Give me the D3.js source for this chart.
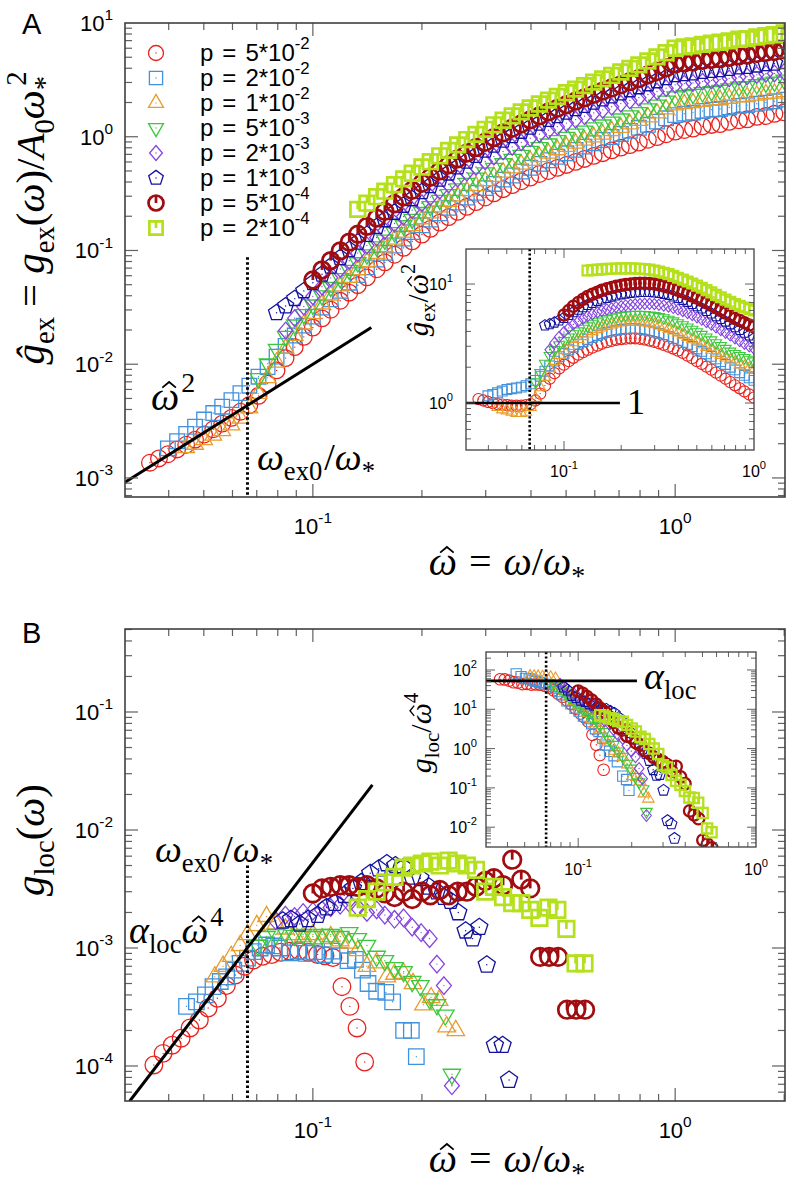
<!DOCTYPE html>
<html><head><meta charset="utf-8">
<script src="https://cdn.jsdelivr.net/npm/d3@7"></script>
<style>body{margin:0;background:#fff}</style>
</head><body>
<svg id="c" width="796" height="1189"></svg>
<script>
const N = null;
// legend / series
const pMantissa = ["5","2","1","5","2","1","5","2"];
const pExponent = ["-2","-2","-2","-3","-3","-3","-4","-4"];
const seriesColors = ["#e8231e","#4191dc","#e89c2c","#3cc83c","#8444e0","#12129c","#a00c10","#b4e01c"];
const seriesShapes = ["circle","square","triangle","triangleDown","diamond","pentagon","circle","square"];
const thickSeries = [false,false,false,false,false,false,true,true];

// Panel A: frequency bins and ratio g_ex/omega^2 per series
const omegaA = [0.0355,0.0376,0.0398,0.0422,0.0447,0.0473,0.0501,0.0531,0.0562,0.0596,
0.0631,0.0668,0.0708,0.0750,0.0794,0.0841,0.0891,0.0944,0.100,0.106,
0.112,0.119,0.126,0.133,0.141,0.150,0.158,0.168,0.178,0.188,
0.200,0.211,0.224,0.237,0.251,0.266,0.282,0.299,0.316,0.335,
0.355,0.376,0.398,0.422,0.447,0.473,0.501,0.531,0.562,0.596,
0.631,0.668,0.708,0.750,0.794,0.841,0.891,0.944,1.00,1.06,
1.12,1.19,1.26,1.33,1.41,1.50,1.58,1.68,1.78,1.88,2.00];

const ratioA_5e2 = [1.08,1.05,1.02,1.0,0.98,0.97,0.96,0.95,0.95,0.95,
0.96,0.98,1.05,1.2,1.4,1.6,1.78,1.95,2.1,2.25,
2.4,2.55,2.68,2.8,2.92,3.04,3.15,3.25,3.33,3.4,
3.45,3.48,3.5,3.5,3.47,3.42,3.35,3.27,3.18,3.08,
2.98,2.87,2.76,2.64,2.5,2.38,2.25,2.13,2.02,1.91,
1.8,1.7,1.6,1.5,1.41,1.33,1.25,1.18,1.11,1.02,
0.94,0.87,0.8,0.73,0.68,0.62,0.57,0.53,0.48,0.45,0.41];
const ratioA_2e2 = [N,N,1.15,1.18,1.22,1.26,1.3,1.32,1.34,1.36,
1.4,1.45,1.55,1.68,1.85,2.05,2.25,2.45,2.62,2.8,
2.96,3.12,3.28,3.43,3.57,3.7,3.82,3.92,4.02,4.1,
4.16,4.2,4.22,4.22,4.18,4.12,4.04,3.95,3.85,3.74,
3.62,3.5,3.37,3.24,3.11,2.98,2.85,2.72,2.59,2.47,
2.35,2.23,2.11,2.0,1.9,1.8,1.71,1.63,1.55,1.42,
1.3,1.19,1.09,0.99,0.91,0.83,0.76,0.69,0.63,0.58,0.53];
const ratioA_1e2 = [N,N,N,N,0.92,0.88,0.86,0.84,0.82,0.82,
0.84,0.92,1.1,1.35,1.65,1.95,2.25,2.52,2.77,3.0,
3.22,3.43,3.63,3.82,4.0,4.16,4.3,4.43,4.55,4.65,
4.73,4.78,4.8,4.8,4.78,4.73,4.66,4.57,4.46,4.34,
4.2,4.05,3.9,3.74,3.58,3.42,3.26,3.1,2.94,2.79,
2.64,2.52,2.4,2.3,2.2,2.1,2.03,1.96,1.9,1.73,
1.58,1.44,1.31,1.19,1.09,0.99,0.9,0.82,0.75,0.68,0.62];
const ratioA_5e3 = [N,N,N,N,N,N,N,N,N,N,
N,N,1.5,1.8,2.15,2.5,2.8,3.08,3.33,3.57,
3.8,4.02,4.23,4.43,4.62,4.8,4.96,5.1,5.23,5.34,
5.42,5.48,5.52,5.54,5.54,5.52,5.47,5.4,5.3,5.18,
5.04,4.88,4.71,4.53,4.34,4.15,3.95,3.76,3.57,3.38,
3.2,3.03,2.87,2.72,2.6,2.5,2.4,2.32,2.25,2.06,
1.89,1.73,1.58,1.45,1.33,1.22,1.11,1.02,0.94,0.86,0.79];
const ratioA_2e3 = [N,N,N,N,N,N,N,N,N,N,
N,N,N,N,N,2.8,3.2,3.6,3.95,4.28,
4.58,4.86,5.12,5.36,5.58,5.78,5.96,6.12,6.27,6.4,
6.52,6.62,6.7,6.76,6.8,6.82,6.82,6.78,6.7,6.6,
6.46,6.3,6.12,5.92,5.7,5.48,5.25,5.02,4.79,4.56,
4.33,4.11,3.9,3.7,3.5,3.32,3.15,3.0,2.86,2.61,
2.37,2.16,1.97,1.8,1.64,1.49,1.36,1.24,1.13,1.02,0.93];
const ratioA_1e3 = [N,N,N,N,N,N,N,N,N,N,
N,N,N,N,4.5,4.6,4.75,4.95,5.2,5.5,
5.8,6.1,6.4,6.68,6.95,7.2,7.44,7.66,7.86,8.04,
8.2,8.33,8.44,8.52,8.58,8.6,8.58,8.52,8.42,8.28,
8.1,7.88,7.64,7.38,7.1,6.82,6.53,6.24,5.95,5.66,
5.38,5.1,4.84,4.59,4.35,4.12,3.9,3.7,3.5,3.19,
2.9,2.64,2.41,2.19,2.0,1.82,1.66,1.51,1.38,1.25,1.14];
const ratioA_5e4 = [N,N,N,N,N,N,N,N,N,N,
N,N,N,N,N,N,N,N,5.5,6.0,
6.5,7.0,7.45,7.85,8.2,8.55,8.85,9.12,9.36,9.57,
9.75,9.9,10.0,10.1,10.15,10.15,10.1,10.0,9.85,9.65,
9.42,9.16,8.88,8.58,8.27,7.95,7.62,7.29,6.96,6.64,
6.32,6.01,5.71,5.42,5.14,4.95,4.72,4.52,4.35,3.97,
3.62,3.31,3.02,2.75,2.51,2.29,2.09,1.91,1.74,1.59,1.45];
const ratioA_2e4 = [N,N,N,N,N,N,N,N,N,N,
N,N,N,N,N,N,N,N,N,N,
N,N,N,13.0,13.1,13.2,13.3,13.4,13.45,13.5,
13.55,13.55,13.55,13.5,13.45,13.35,13.2,13.0,12.75,12.45,
12.1,11.7,11.3,10.9,10.5,10.1,9.7,9.3,8.9,8.5,
8.1,7.75,7.4,7.1,6.8,6.55,6.35,6.15,6.0,5.48,
5.01,4.58,4.19,3.83,3.5,3.2,2.92,2.67,2.44,2.23,2.04];
const ratioA = [ratioA_5e2,ratioA_2e2,ratioA_1e2,ratioA_5e3,ratioA_2e3,ratioA_1e3,ratioA_5e4,ratioA_2e4];

// Panel B: [omega, g_loc] per series
const gLoc_5e2 = [[0.0364,1.02e-4],[0.0386,1.28e-4],[0.0409,1.5e-4],[0.0433,1.72e-4],[0.0458,2.1e-4],[0.0486,2.45e-4],[0.0514,3.1e-4],[0.0545,3.75e-4],[0.0577,4.8e-4],[0.0611,5.9e-4],[0.0648,7.0e-4],[0.0686,7.9e-4],[0.0727,8.5e-4],[0.077,8.8e-4],[0.0815,9.2e-4],[0.0864,9.4e-4],[0.0915,9.5e-4],[0.0969,9.2e-4],[0.103,8.8e-4],[0.108,8.6e-4],[0.1136,8.3e-4],[0.1203,4.7e-4],[0.1265,3.2e-4],[0.1324,2.1e-4],[0.139,1.08e-4]];
const gLoc_2e2 = [[0.0448,3.2e-4],[0.0477,3.5e-4],[0.0505,4.0e-4],[0.053,4.7e-4],[0.0555,5.2e-4],[0.0578,5.7e-4],[0.0605,6.5e-4],[0.063,7.4e-4],[0.066,8.2e-4],[0.0685,9.3e-4],[0.0715,1.0e-3],[0.0745,1.06e-3],[0.078,1.04e-3],[0.081,1.0e-3],[0.0864,9.1e-4],[0.091,9.4e-4],[0.096,9.0e-4],[0.101,9.3e-4],[0.107,8.8e-4],[0.113,9.4e-4],[0.119,8.6e-4],[0.125,7.8e-4],[0.131,8.0e-4],[0.137,6.5e-4],[0.142,5.0e-4],[0.150,4.3e-4],[0.159,4.2e-4],[0.166,3.5e-4],[0.178,2.0e-4],[0.187,2.0e-4],[0.193,1.2e-4]];
const gLoc_1e2 = [[0.0536,5.7e-4],[0.0565,7.0e-4],[0.0595,8.5e-4],[0.063,1.05e-3],[0.066,1.3e-3],[0.07,1.55e-3],[0.0745,1.85e-3],[0.079,1.6e-3],[0.084,1.45e-3],[0.089,1.3e-3],[0.094,1.25e-3],[0.1,1.3e-3],[0.106,1.2e-3],[0.112,1.25e-3],[0.119,1.15e-3],[0.126,1.1e-3],[0.133,9.5e-4],[0.141,7.0e-4],[0.15,7.5e-4],[0.16,5.7e-4],[0.168,6.0e-4],[0.178,6.1e-4],[0.189,5.0e-4],[0.202,3.3e-4],[0.212,3.8e-4],[0.223,3.6e-4],[0.234,2.15e-4],[0.248,2.0e-4]];
const gLoc_5e3 = [[0.0705,1.05e-3],[0.0745,1.25e-3],[0.079,1.3e-3],[0.084,1.35e-3],[0.089,1.28e-3],[0.094,1.3e-3],[0.1,1.25e-3],[0.106,1.3e-3],[0.112,1.3e-3],[0.119,1.25e-3],[0.126,1.35e-3],[0.133,1.2e-3],[0.141,1.05e-3],[0.15,8.5e-4],[0.158,7.8e-4],[0.168,6.8e-4],[0.178,6.3e-4],[0.188,5.2e-4],[0.198,4.8e-4],[0.21,3.7e-4],[0.22,3.3e-4],[0.232,2.7e-4],[0.242,8.5e-5]];
const gLoc_2e3 = [[0.079,1.7e-3],[0.084,1.9e-3],[0.089,1.85e-3],[0.094,2.0e-3],[0.1,2.05e-3],[0.106,2.1e-3],[0.112,2.2e-3],[0.119,2.3e-3],[0.126,2.4e-3],[0.133,2.2e-3],[0.141,2.0e-3],[0.15,2.1e-3],[0.158,1.9e-3],[0.168,1.75e-3],[0.178,1.8e-3],[0.188,1.5e-3],[0.199,1.35e-3],[0.21,1.2e-3],[0.22,7.3e-4],[0.23,4.8e-4],[0.242,6.8e-5]];
const gLoc_1e3 = [[0.0826,1.7e-3],[0.087,1.75e-3],[0.092,1.6e-3],[0.097,1.75e-3],[0.103,1.9e-3],[0.109,2.2e-3],[0.115,2.4e-3],[0.122,2.8e-3],[0.129,3.2e-3],[0.136,3.6e-3],[0.144,4.3e-3],[0.152,4.7e-3],[0.16,5.2e-3],[0.169,5.0e-3],[0.178,4.8e-3],[0.188,4.0e-3],[0.198,3.9e-3],[0.209,3.3e-3],[0.22,3.0e-3],[0.23,2.7e-3],[0.24,2.5e-3],[0.252,2.0e-3],[0.264,1.4e-3],[0.276,1.2e-3],[0.288,1.5e-3],[0.302,7.2e-4],[0.318,1.5e-4],[0.334,1.5e-4],[0.348,7.6e-5]];
const gLoc_5e4 = [[0.1,2.9e-3],[0.106,3.2e-3],[0.112,3.3e-3],[0.119,3.4e-3],[0.126,3.4e-3],[0.133,3.3e-3],[0.141,3.4e-3],[0.15,3.2e-3],[0.158,2.9e-3],[0.168,2.7e-3],[0.178,3.0e-3],[0.188,2.6e-3],[0.2,3.0e-3],[0.211,2.8e-3],[0.224,3.1e-3],[0.237,2.8e-3],[0.251,3.0e-3],[0.266,3.0e-3],[0.282,3.3e-3],[0.299,3.7e-3],[0.316,3.9e-3],[0.335,3.4e-3],[0.355,5.6e-3],[0.376,3.8e-3],[0.398,3.2e-3],[0.424,8.4e-4],[0.449,8.4e-4],[0.475,8.4e-4],[0.503,3.0e-4],[0.533,3.0e-4],[0.564,3.0e-4]];
const gLoc_2e4 = [[0.133,2.2e-3],[0.141,2.6e-3],[0.15,3.0e-3],[0.158,3.6e-3],[0.168,4.0e-3],[0.178,4.8e-3],[0.188,5.0e-3],[0.2,5.2e-3],[0.211,5.4e-3],[0.224,5.0e-3],[0.237,5.5e-3],[0.251,5.2e-3],[0.266,5.0e-3],[0.282,4.6e-3],[0.299,3.0e-3],[0.316,3.3e-3],[0.335,2.7e-3],[0.355,2.4e-3],[0.376,2.4e-3],[0.398,2.1e-3],[0.422,1.8e-3],[0.447,2.2e-3],[0.473,2.1e-3],[0.501,1.45e-3],[0.531,7.4e-4],[0.562,7.4e-4]];
const gLocB = [gLoc_5e2,gLoc_2e2,gLoc_1e2,gLoc_5e3,gLoc_2e3,gLoc_1e3,gLoc_5e4,gLoc_2e4];

// reference lines / constants
const omegaEx0 = 0.066;
const alphaLoc = 53;
const lineA_omega = [0.0303, 0.145];
const lineAi_omega = [0.0305, 0.197];
const lineB_omega = [0.0312, 0.146];
const lineBi_omega = [0.0303, 0.214];
const dottedA_top = 0.087, dottedB_top = 5.0e-3;

// ---------------------------------------------------------------
const svg = d3.select("#c");
const SANS = "'Liberation Sans', Arial, Helvetica, sans-serif";
const SERIF = "'Liberation Serif', 'DejaVu Serif', serif";

const xA = d3.scaleLog().domain([0.0303, 2.01]).range([125, 785]);
const yA = d3.scaleLog().domain([6.8e-4, 10]).range([497, 23]);
const xAi = d3.scaleLog().domain([0.0305, 1.0]).range([466, 754]);
const yAi = d3.scaleLog().domain([0.403, 19.7]).range([450, 249]);
const xB = d3.scaleLog().domain([0.0303, 2.01]).range([125, 785]);
const yB = d3.scaleLog().domain([5.05e-5, 0.505]).range([1101, 629]);
const xBi = d3.scaleLog().domain([0.0303, 1.0]).range([486, 756]);
const yBi = d3.scaleLog().domain([3.13e-3, 287]).range([847, 652]);

function markerPath(shape, s) {
  switch (shape) {
    case "circle": return `M${s},0A${s},${s},0,1,1,${-s},0A${s},${s},0,1,1,${s},0Z`;
    case "square": { const h = s*0.88; return `M${-h},${-h}H${h}V${h}H${-h}Z`; }
    case "triangle": { const R = s*1.15; return `M0,${-R}L${R*0.866},${R*0.5}L${-R*0.866},${R*0.5}Z`; }
    case "triangleDown": { const R = s*1.15; return `M0,${R}L${R*0.866},${-R*0.5}L${-R*0.866},${-R*0.5}Z`; }
    case "diamond": { const R = s; return `M0,${-R}L${R*0.85},0L0,${R}L${-R*0.85},0Z`; }
    case "pentagon": { const R = s*1.02; let d = ""; for (let k = 0; k < 5; k++) { const a = -Math.PI/2 + k*2*Math.PI/5; d += (k ? "L" : "M") + (R*Math.cos(a)).toFixed(2) + "," + (R*Math.sin(a)).toFixed(2); } return d + "Z"; }
  }
}
function drawMarkers(g, pts, k, xs, ys, s, sw) {
  const m = g.append("g").selectAll("g").data(pts).join("g")
    .attr("transform", d => `translate(${xs(d[0]).toFixed(2)},${ys(d[1]).toFixed(2)})`);
  m.append("path").attr("d", markerPath(seriesShapes[k], s)).attr("fill", "none")
    .attr("stroke", seriesColors[k]).attr("stroke-width", thickSeries[k] ? sw*2.1 : sw);
  if (thickSeries[k]) {
    const top = seriesShapes[k] === "square" ? s*0.88 : s;
    m.append("line").attr("x1", 0).attr("x2", 0).attr("y1", -top).attr("y2", 0)
      .attr("stroke", seriesColors[k]).attr("stroke-width", sw*2.1);
  } else {
    m.append("circle").attr("r", 0.7).attr("fill", seriesColors[k]);
  }
}
// rich math-like text; parts with hat get a drawn circumflex (path) above the glyph
function rich(parent, x, y, parts, o) {
  const fam = o.family || SERIF;
  const t = parent.append("text").attr("x", x).attr("y", y)
    .attr("font-family", fam).attr("font-size", o.size)
    .attr("text-anchor", o.anchor || "start").attr("fill", "#000");
  const tr = o.rotate ? `rotate(${o.rotate},${x},${y})` : null;
  if (tr) t.attr("transform", tr);
  let cur = 0, idx = 0;
  const hats = [];
  for (const p of parts) {
    const off = p.sup ? -o.size*(o.supK || 0.45) : p.sub ? o.size*0.25 : 0;
    const fsz = (p.sup || p.sub) ? o.size*(o.scriptK || 0.7) : o.size;
    const s = t.append("tspan").attr("dy", (off - cur).toFixed(2)).text(p.t);
    cur = off;
    if (p.sup || p.sub) s.attr("font-size", fsz);
    if (p.i) s.attr("font-style", "italic");
    if (p.dx) s.attr("dx", p.dx);
    if (p.hat) hats.push({idx, fsz, italic: !!p.i});
    idx += p.t.length;
  }
  if (hats.length) {
    const hg = parent.append("g");
    if (tr) hg.attr("transform", tr);
    hats.forEach(h => {
      const sp = t.node().getStartPositionOfChar(h.idx), ep = t.node().getEndPositionOfChar(h.idx);
      const cx = (sp.x + ep.x)/2 + (h.italic ? h.fsz*0.1 : 0), b = sp.y, f = h.fsz;
      hg.append("path").attr("d", `M${cx - f*0.17},${b - f*0.56}L${cx},${b - f*0.7}L${cx + f*0.17},${b - f*0.56}`)
        .attr("fill", "none").attr("stroke", "#000").attr("stroke-width", f*0.045).attr("stroke-linejoin", "miter");
    });
  }
  return t;
}
function isMajor(v) { const l = Math.log10(v); return Math.abs(l - Math.round(l)) < 1e-6; }
function frame(g, xs, ys, o) {
  const [x0, x1] = xs.range(), [y0, y1] = ys.range(); // y0 bottom, y1 top
  const tk = g.append("g").attr("stroke", "#606060").attr("stroke-width", o.tw);
  xs.ticks().forEach(v => {
    const x = xs(v); if (x < x0 + 0.5 || x > x1 - 0.5) return;
    const L = isMajor(v) ? o.maj : o.min;
    tk.append("line").attr("x1", x).attr("x2", x).attr("y1", y0).attr("y2", y0 - L);
    tk.append("line").attr("x1", x).attr("x2", x).attr("y1", y1).attr("y2", y1 + L);
  });
  ys.ticks().forEach(v => {
    const y = ys(v); if (y > y0 - 0.5 || y < y1 + 0.5) return;
    const L = isMajor(v) ? o.maj : o.min;
    tk.append("line").attr("y1", y).attr("y2", y).attr("x1", x0).attr("x2", x0 + L);
    tk.append("line").attr("y1", y).attr("y2", y).attr("x1", x1).attr("x2", x1 - L);
  });
  g.append("rect").attr("x", x0).attr("y", y1).attr("width", x1 - x0).attr("height", y0 - y1)
    .attr("fill", "none").attr("stroke", "#404040").attr("stroke-width", o.fw);
  xs.ticks().filter(isMajor).forEach(v => {
    const x = xs(v); if (x < x0 - 1 || x > x1 + 1) return;
    rich(g, x, y0 + o.xlabOff, [{t: "10"}, {t: String(Math.round(Math.log10(v))), sup: 1}],
      {family: SANS, size: o.fs, anchor: "middle", supK: 0.48});
  });
  ys.ticks().filter(isMajor).forEach(v => {
    const y = ys(v); if (y > y0 + 1 || y < y1 - 1) return;
    rich(g, x0 - o.ylabGap, y + o.ylabDy, [{t: "10"}, {t: String(Math.round(Math.log10(v))), sup: 1}],
      {family: SANS, size: o.fs, anchor: "end", supK: 0.48});
  });
}
function clip(id, xs, ys) {
  const [x0, x1] = xs.range(), [y0, y1] = ys.range();
  svg.append("clipPath").attr("id", id).append("rect")
    .attr("x", x0).attr("y", y1).attr("width", x1 - x0).attr("height", y0 - y1);
  return `url(#${id})`;
}
const lineGen = (xs, ys) => d3.line().x(d => xs(d[0])).y(d => ys(d[1]));
const W = "\u03C9";

// ================= Panel A main =================
const gA = svg.append("g");
const dataA = gA.append("g").attr("clip-path", clip("cA", xA, yA));
ratioA.forEach((arr, k) => {
  const pts = [];
  arr.forEach((r, i) => { if (r != null) pts.push([omegaA[i], r*omegaA[i]*omegaA[i]]); });
  drawMarkers(dataA, pts, k, xA, yA, 8.3, 1.3);
});
dataA.append("path").attr("d", lineGen(xA, yA)(lineA_omega.map(w => [w, w*w])))
  .attr("stroke", "#000").attr("stroke-width", 3).attr("fill", "none");
dataA.append("line").attr("x1", xA(omegaEx0)).attr("x2", xA(omegaEx0))
  .attr("y1", yA(dottedA_top)).attr("y2", yA.range()[0])
  .attr("stroke", "#000").attr("stroke-width", 3).attr("stroke-dasharray", "2.5,2.5");
frame(gA, xA, yA, {tw: 1.2, fw: 1.6, maj: 13, min: 7, fs: 22, xlabOff: 37, ylabGap: 12, ylabDy: 8});

// legend
const leg = gA.append("g");
pMantissa.forEach((m, k) => {
  const cy = 53 + 25*k;
  drawMarkers(leg, [[0, 0]], k, v => 156, v => cy, 7.5, 1.3);
  rich(leg, 200, cy + 8, [{t: "p"}, {t: "=", dx: 9}, {t: `${m}*10`, dx: 9}, {t: pExponent[k], sup: 1}],
    {family: SANS, size: 24, supK: 0.5});
});

// inset A
const gAi = svg.append("g");
gAi.append("rect").attr("x", 466).attr("y", 249).attr("width", 288).attr("height", 201).attr("fill", "#fff");
const dataAi = gAi.append("g").attr("clip-path", clip("cAi", xAi, yAi));
ratioA.forEach((arr, k) => {
  const pts = [];
  arr.forEach((r, i) => { if (r != null && omegaA[i] <= 1.0001) pts.push([omegaA[i], r]); });
  drawMarkers(dataAi, pts, k, xAi, yAi, 5.6, 1.1);
});
dataAi.append("path").attr("d", lineGen(xAi, yAi)(lineAi_omega.map(w => [w, 1])))
  .attr("stroke", "#000").attr("stroke-width", 2.6).attr("fill", "none");
dataAi.append("line").attr("x1", xAi(omegaEx0)).attr("x2", xAi(omegaEx0))
  .attr("y1", yAi.range()[1]).attr("y2", yAi.range()[0])
  .attr("stroke", "#000").attr("stroke-width", 2.6).attr("stroke-dasharray", "2.2,2.2");
frame(gAi, xAi, yAi, {tw: 1, fw: 1.3, maj: 9, min: 5, fs: 16, xlabOff: 27, ylabGap: 13, ylabDy: 6});
rich(gAi, 627, 414, [{t: "1"}], {size: 36});
rich(gAi, 428, 300, [{t: "\u011D", i: 1}, {t: "ex", sub: 1}, {t: "/"}, {t: W, i: 1, hat: 1}, {t: "2", sup: 1}],
  {size: 29, anchor: "middle", rotate: -90});

// panel A labels
rich(svg, 22, 34, [{t: "A"}], {family: SANS, size: 29});
rich(svg, 44, 218, [{t: "\u011D", i: 1}, {t: "ex", sub: 1}, {t: "=", dx: 10}, {t: "g", i: 1, dx: 10}, {t: "ex", sub: 1},
  {t: "("}, {t: W, i: 1}, {t: ")"}, {t: "/"}, {t: "A", i: 1}, {t: "0", sub: 1}, {t: W, i: 1},
  {t: "*", sub: 1}, {t: "2", sup: 1, dx: -10}], {size: 41, anchor: "middle", rotate: -90});
rich(svg, 507, 575, [{t: W, i: 1, hat: 1}, {t: "=", dx: 12}, {t: W, i: 1, dx: 12}, {t: "/"}, {t: W, i: 1}, {t: "*", sub: 1}],
  {size: 40, anchor: "middle"});
rich(svg, 151, 410, [{t: W, i: 1, hat: 1}, {t: "2", sup: 1, dx: 2}], {size: 40});
rich(svg, 257, 470, [{t: W, i: 1}, {t: "ex0", sub: 1}, {t: "/", dx: 2}, {t: W, i: 1}, {t: "*", sub: 1}], {size: 38});

// ================= Panel B main =================
const gB = svg.append("g");
const dataB = gB.append("g").attr("clip-path", clip("cB", xB, yB));
gLocB.forEach((pts, k) => drawMarkers(dataB, pts, k, xB, yB, 8.8, 1.3));
dataB.append("path").attr("d", lineGen(xB, yB)(lineB_omega.map(w => [w, alphaLoc*Math.pow(w, 4)])))
  .attr("stroke", "#000").attr("stroke-width", 3).attr("fill", "none");
dataB.append("line").attr("x1", xB(omegaEx0)).attr("x2", xB(omegaEx0))
  .attr("y1", yB(dottedB_top)).attr("y2", yB.range()[0])
  .attr("stroke", "#000").attr("stroke-width", 3).attr("stroke-dasharray", "2.5,2.5");
frame(gB, xB, yB, {tw: 1.2, fw: 1.6, maj: 13, min: 7, fs: 22, xlabOff: 37, ylabGap: 12, ylabDy: 8});

// inset B
const gBi = svg.append("g");
gBi.append("rect").attr("x", 486).attr("y", 652).attr("width", 270).attr("height", 195).attr("fill", "#fff");
const dataBi = gBi.append("g").attr("clip-path", clip("cBi", xBi, yBi));
gLocB.forEach((pts, k) => drawMarkers(dataBi, pts.map(d => [d[0], d[1]/Math.pow(d[0], 4)]), k, xBi, yBi, 5.8, 1.1));
dataBi.append("path").attr("d", lineGen(xBi, yBi)(lineBi_omega.map(w => [w, alphaLoc])))
  .attr("stroke", "#000").attr("stroke-width", 2.6).attr("fill", "none");
dataBi.append("line").attr("x1", xBi(omegaEx0)).attr("x2", xBi(omegaEx0))
  .attr("y1", yBi.range()[1]).attr("y2", yBi.range()[0])
  .attr("stroke", "#000").attr("stroke-width", 2.6).attr("stroke-dasharray", "2.2,2.2");
frame(gBi, xBi, yBi, {tw: 1, fw: 1.3, maj: 9, min: 5, fs: 16, xlabOff: 28, ylabGap: 9, ylabDy: 6});
rich(gBi, 644, 689, [{t: "\u03B1", i: 1}, {t: "loc", sub: 1}], {size: 38});
rich(gBi, 431, 733, [{t: "g", i: 1}, {t: "loc", sub: 1}, {t: "/"}, {t: W, i: 1, hat: 1}, {t: "4", sup: 1}],
  {size: 30, anchor: "middle", rotate: -90});

// panel B labels
rich(svg, 22, 643, [{t: "B"}], {family: SANS, size: 29});
rich(svg, 44, 840, [{t: "g", i: 1}, {t: "loc", sub: 1}, {t: "("}, {t: W, i: 1}, {t: ")"}],
  {size: 41, anchor: "middle", rotate: -90});
rich(svg, 507, 1172, [{t: W, i: 1, hat: 1}, {t: "=", dx: 12}, {t: W, i: 1, dx: 12}, {t: "/"}, {t: W, i: 1}, {t: "*", sub: 1}],
  {size: 40, anchor: "middle"});
rich(svg, 155, 862, [{t: W, i: 1}, {t: "ex0", sub: 1}, {t: "/", dx: 2}, {t: W, i: 1}, {t: "*", sub: 1}], {size: 38});
rich(svg, 129, 943, [{t: "\u03B1", i: 1}, {t: "loc", sub: 1}, {t: W, i: 1, hat: 1}, {t: "4", sup: 1, dx: 2}], {size: 38});
</script>
</body></html>
